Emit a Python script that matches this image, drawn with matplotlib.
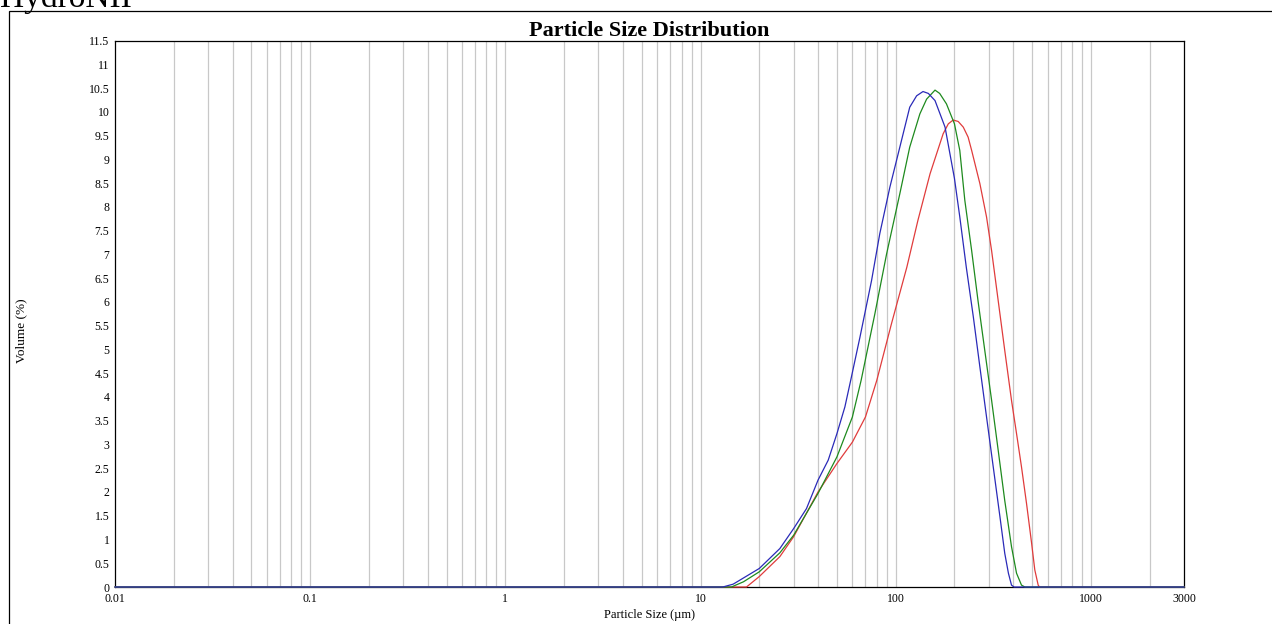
import numpy as np
import matplotlib
matplotlib.use("Agg")
import matplotlib.pyplot as plt
from matplotlib.patches import Rectangle

plt.rcParams['font.family'] = ['Liberation Serif', 'DejaVu Serif']

# --- data (particle size in um, volume in %) ---
blue_size = [0.01, 13.0, 14.7, 20, 25.5, 30, 34.9, 40, 45.1, 50, 54.9, 58.8,
             65.6, 75.2, 82.9, 93.4, 105, 118, 128, 138, 147, 159, 179, 200,
             213, 230, 250, 270, 292, 316, 342, 362, 378, 392, 404, 3000]
blue_vol = [0, 0, 0.06, 0.39, 0.81, 1.23, 1.65, 2.25, 2.67, 3.23, 3.79, 4.35,
            5.26, 6.45, 7.44, 8.42, 9.26, 10.1, 10.34, 10.43, 10.39, 10.24,
            9.68, 8.6, 7.79, 6.73, 5.68, 4.63, 3.58, 2.53, 1.48, 0.71, 0.29,
            0.04, 0, 0]

green_size = [0.01, 14.4, 16.6, 20, 25.5, 30, 40, 50, 60, 66.5, 78.2, 89.8,
              105, 118, 133, 144, 159, 168, 182, 200, 213, 226, 245, 264, 286,
              310, 335, 362, 392, 416, 441, 459, 3000]
green_vol = [0, 0, 0.11, 0.32, 0.72, 1.09, 1.97, 2.74, 3.58, 4.35, 5.75, 7.01,
             8.28, 9.26, 9.96, 10.27, 10.46, 10.39, 10.17, 9.75, 9.19, 8.14,
             7.08, 6.03, 4.98, 3.93, 2.88, 1.82, 0.85, 0.29, 0.04, 0, 0]

red_size = [0.01, 17.2, 20, 25.5, 30, 40, 50, 60, 70, 80, 95.1, 114, 130,
            150, 175, 186, 197, 209, 222, 235, 245, 270, 292, 310, 335, 362,
            392, 416, 441, 468, 497, 516, 537, 545, 3000]
red_vol = [0, 0, 0.22, 0.64, 1.06, 2.0, 2.6, 3.05, 3.58, 4.35, 5.54, 6.73,
           7.72, 8.70, 9.54, 9.75, 9.83, 9.80, 9.68, 9.47, 9.19, 8.49, 7.79,
           7.08, 6.03, 4.98, 3.93, 3.23, 2.53, 1.76, 0.92, 0.36, 0.04, 0, 0]

x_ticks = [0.01, 0.1, 1, 10, 100, 1000, 3000]
x_tick_labels = ['0.01', '0.1', '1', '10', '100', '1000', '3000']
y_ticks = np.arange(0, 11.51, 0.5)

W, H = 1272, 624
fig = plt.figure(figsize=(W / 100, H / 100), dpi=100)
fig.patch.set_facecolor('white')

# outer frame and clipped header text (cut off in the original too)
fig.add_artist(Rectangle((9 / W, -0.02), 1.05, (H - 11) / H + 0.02,
                         transform=fig.transFigure, fill=False,
                         edgecolor='black', lw=0.9))
fig.text(0.0, (H - 7.5) / H, 'HydroNII', fontsize=24, va='baseline',
         ha='left')

ax = fig.add_axes([115 / W, (H - 587) / H, (1184 - 115) / W, (587 - 40.7) / H])
ax.set_xscale('log')
ax.set_xlim(0.01, 3000)
ax.set_ylim(0, 11.5)

# vertical grid at 1..9 x each decade
grid_x = [k * 10.0 ** e for e in range(-2, 4) for k in range(1, 10)]
grid_x = [g for g in grid_x if 0.011 < g < 2500]
for g in grid_x:
    ax.axvline(g, color='#c8c8c8', lw=0.9, zorder=0)

ax.plot(red_size, red_vol, color='#e03c3c', lw=0.9, clip_on=False, zorder=3)
ax.plot(green_size, green_vol, color='#1e8a1e', lw=0.9, clip_on=False, zorder=4)
ax.plot(blue_size, blue_vol, color='#2a2ab8', lw=0.9, clip_on=False, zorder=5)

ax.set_xticks(x_ticks)
ax.set_xticklabels(x_tick_labels)
ax.xaxis.set_minor_locator(matplotlib.ticker.NullLocator())
ax.set_yticks(y_ticks)
ax.set_yticklabels([f'{v:g}' for v in y_ticks])
ax.tick_params(axis='both', length=0, labelsize=8.5, pad=4)

for s in ax.spines.values():
    s.set_color('black')
    s.set_linewidth(0.9)

ax.set_xlabel('Particle Size (µm)', fontsize=9, labelpad=3)
ax.set_ylabel('Volume (%)', fontsize=9.5, labelpad=0)
ax.yaxis.set_label_coords((27 - 115) / (1184 - 115), 0.47)

fig.text((115 + 1184) / 2 / W, (H - 36.5) / H, 'Particle Size Distribution',
         fontsize=16, fontweight='bold', ha='center', va='baseline')

fig.savefig('out.png', dpi=100)
